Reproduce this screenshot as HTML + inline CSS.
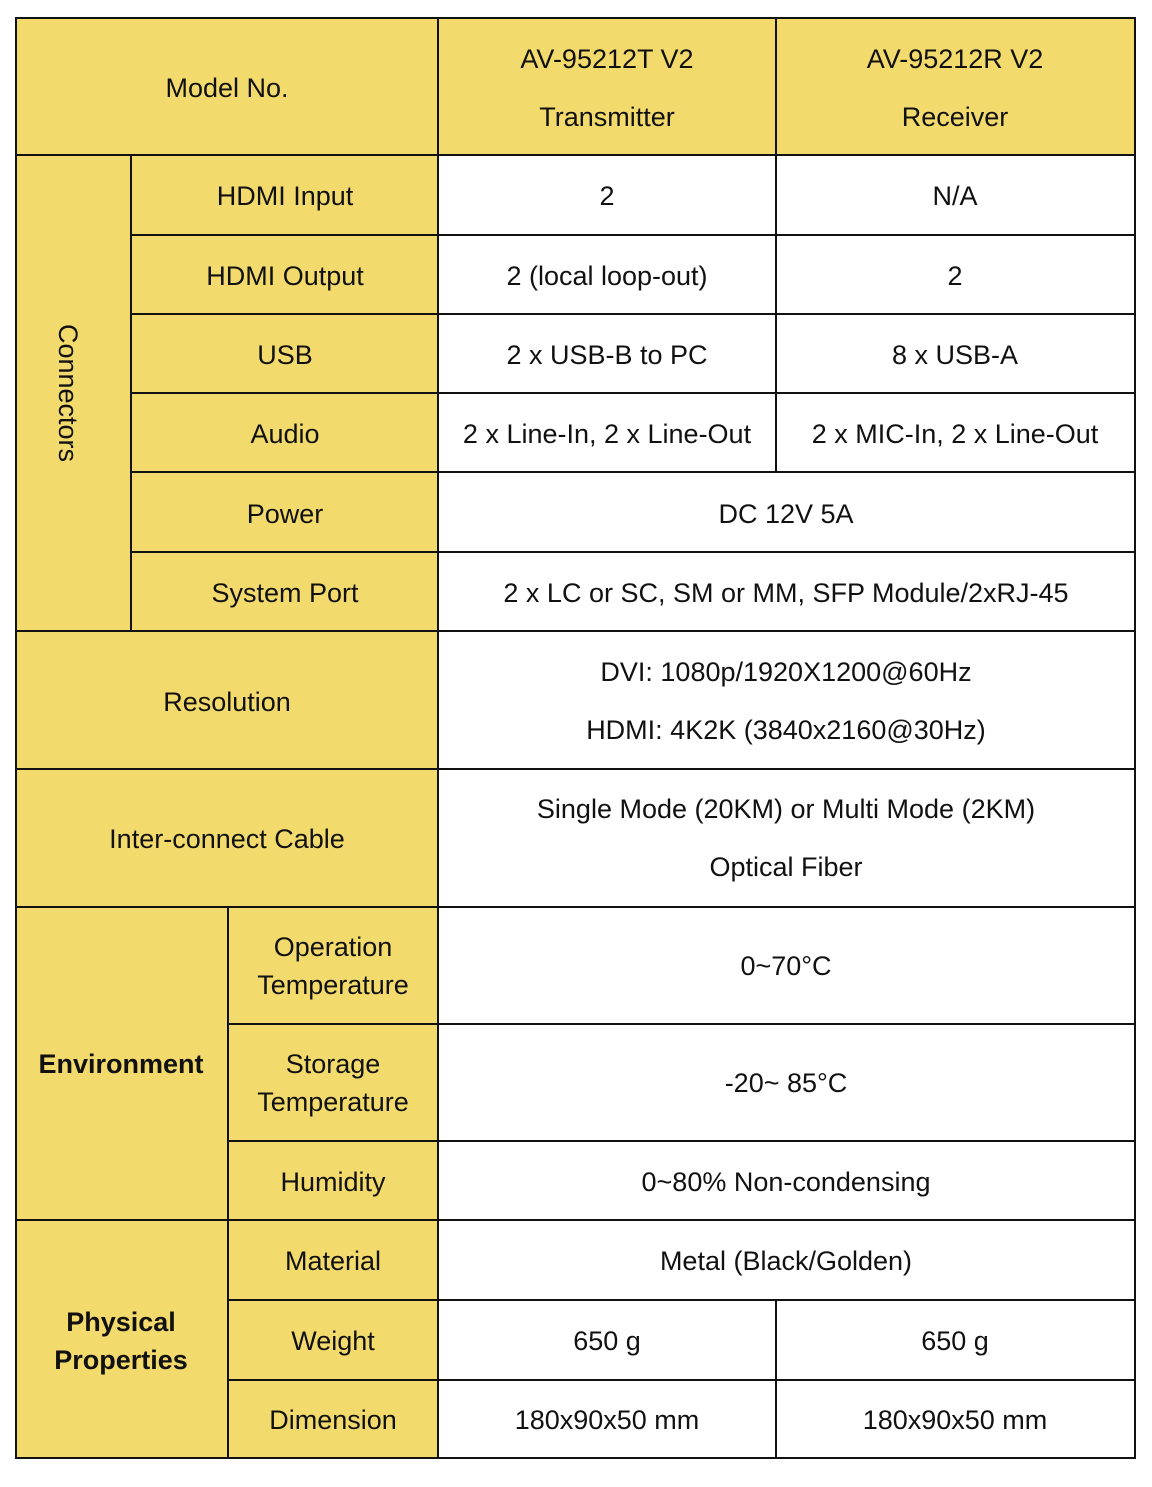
<!DOCTYPE html>
<html><head><meta charset="utf-8"><style>
html,body{margin:0;padding:0;background:#fff;}
svg text{font-family:"Liberation Sans",sans-serif;font-size:27px;fill:#111;}
</style></head><body>
<svg width="1152" height="1482" viewBox="0 0 1152 1482" xmlns="http://www.w3.org/2000/svg">
<rect x="16" y="18" width="1119" height="1440" fill="#f2da6c"/>
<rect x="438" y="155" width="697" height="1303" fill="#fff"/>
<g stroke="#111" stroke-width="2" fill="none">
<rect x="16" y="18" width="1119" height="1440"/>
<line x1="16" y1="155" x2="1135" y2="155"/>
<line x1="131" y1="235" x2="1135" y2="235"/>
<line x1="131" y1="314" x2="1135" y2="314"/>
<line x1="131" y1="393" x2="1135" y2="393"/>
<line x1="131" y1="472" x2="1135" y2="472"/>
<line x1="131" y1="552" x2="1135" y2="552"/>
<line x1="16" y1="631" x2="1135" y2="631"/>
<line x1="16" y1="769" x2="1135" y2="769"/>
<line x1="16" y1="907" x2="1135" y2="907"/>
<line x1="228" y1="1024" x2="1135" y2="1024"/>
<line x1="228" y1="1141" x2="1135" y2="1141"/>
<line x1="16" y1="1220" x2="1135" y2="1220"/>
<line x1="228" y1="1300" x2="1135" y2="1300"/>
<line x1="228" y1="1380" x2="1135" y2="1380"/>
<line x1="131" y1="155" x2="131" y2="631"/>
<line x1="228" y1="907" x2="228" y2="1458"/>
<line x1="438" y1="18" x2="438" y2="1458"/>
<line x1="776" y1="18" x2="776" y2="472"/>
<line x1="776" y1="1300" x2="776" y2="1458"/>
</g>
<g text-anchor="middle">
<text x="227" y="97">Model No.</text>
<text x="607" y="68">AV-95212T V2</text>
<text x="607" y="126">Transmitter</text>
<text x="955" y="68">AV-95212R V2</text>
<text x="955" y="126">Receiver</text>
<text transform="translate(59,393) rotate(90)" x="0" y="0">Connectors</text>
<text x="285" y="205">HDMI Input</text>
<text x="285" y="285">HDMI Output</text>
<text x="285" y="364">USB</text>
<text x="285" y="443">Audio</text>
<text x="285" y="523">Power</text>
<text x="285" y="602">System Port</text>
<text x="607" y="205">2</text>
<text x="955" y="205">N/A</text>
<text x="607" y="285">2 (local loop-out)</text>
<text x="955" y="285">2</text>
<text x="607" y="364">2 x USB-B to PC</text>
<text x="955" y="364">8 x USB-A</text>
<text x="607" y="443">2 x Line-In, 2 x Line-Out</text>
<text x="955" y="443">2 x MIC-In, 2 x Line-Out</text>
<text x="786" y="523">DC 12V 5A</text>
<text x="786" y="602">2 x LC or SC, SM or MM, SFP Module/2xRJ-45</text>
<text x="227" y="711">Resolution</text>
<text x="786" y="681">DVI: 1080p/1920X1200@60Hz</text>
<text x="786" y="739">HDMI: 4K2K (3840x2160@30Hz)</text>
<text x="227" y="848">Inter-connect Cable</text>
<text x="786" y="818">Single Mode (20KM) or Multi Mode (2KM)</text>
<text x="786" y="876">Optical Fiber</text>
<text x="121" y="1073" font-weight="bold">Environment</text>
<text x="333" y="956">Operation</text>
<text x="333" y="994">Temperature</text>
<text x="333" y="1073">Storage</text>
<text x="333" y="1111">Temperature</text>
<text x="333" y="1191">Humidity</text>
<text x="786" y="975">0~70°C</text>
<text x="786" y="1092">-20~ 85°C</text>
<text x="786" y="1191">0~80% Non-condensing</text>
<text x="121" y="1331" font-weight="bold">Physical</text>
<text x="121" y="1369" font-weight="bold">Properties</text>
<text x="333" y="1270">Material</text>
<text x="333" y="1350">Weight</text>
<text x="333" y="1429">Dimension</text>
<text x="786" y="1270">Metal (Black/Golden)</text>
<text x="607" y="1350">650 g</text>
<text x="955" y="1350">650 g</text>
<text x="607" y="1429">180x90x50 mm</text>
<text x="955" y="1429">180x90x50 mm</text>
</g>
</svg>
</body></html>
